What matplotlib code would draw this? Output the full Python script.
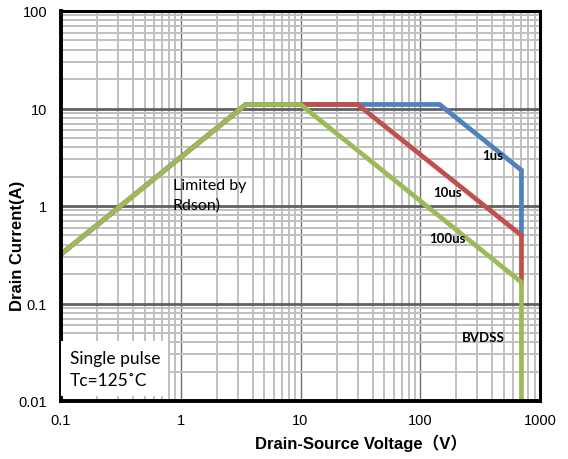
import matplotlib
matplotlib.use("Agg")
import matplotlib.pyplot as plt
from matplotlib.ticker import LogLocator, NullFormatter, FixedLocator

# SOA curves (Drain-Source voltage V, drain current A)
v_1us = [0.1, 3.5, 145, 700, 700]
i_1us = [0.32, 11, 11, 2.33, 0.5]
v_10us = [0.1, 3.5, 30, 700, 700]
i_10us = [0.32, 11, 11, 0.5, 0.165]
v_100us = [0.1, 3.5, 10, 700, 700]
i_100us = [0.32, 11, 11, 0.165, 0.005]

x_ticks = [0.1, 1, 10, 100, 1000]
x_tick_labels = ["0.1", "1", "10", "100", "1000"]
y_ticks = [0.01, 0.1, 1, 10, 100]
y_tick_labels = ["0.01", "0.1", "1", "10", "100"]

sans = ["Liberation Sans", "Noto Sans CJK SC"]
calib = ["Lato", "DejaVu Sans"]

fig = plt.figure(figsize=(5.68, 4.60), dpi=100)
ax = fig.add_axes([61 / 568, 1 - 402 / 460, (540 - 61) / 568, (402 - 12) / 460])
ax.set_xscale("log")
ax.set_yscale("log")
ax.set_xlim(0.1, 1000)
ax.set_ylim(0.01, 100)

# grid
ax.xaxis.set_minor_locator(LogLocator(base=10, subs=range(2, 10)))
ax.yaxis.set_minor_locator(LogLocator(base=10, subs=range(2, 10)))
ax.xaxis.set_minor_formatter(NullFormatter())
ax.yaxis.set_minor_formatter(NullFormatter())
ax.grid(which="minor", color="#c0c0c0", linewidth=1.4)
ax.grid(which="major", axis="x", color="#707070", linewidth=1.0)
ax.grid(which="major", axis="y", color="#606060", linewidth=2.0)
ax.set_axisbelow(True)

ax.plot(v_1us, i_1us, color="#4f81bd", linewidth=3.4, solid_joinstyle="miter")
ax.plot(v_10us, i_10us, color="#c0504d", linewidth=3.4, solid_joinstyle="miter")
ax.plot(v_100us, i_100us, color="#9bbb59", linewidth=3.4, solid_joinstyle="miter")

ax.xaxis.set_major_locator(FixedLocator(x_ticks))
ax.yaxis.set_major_locator(FixedLocator(y_ticks))
ax.set_xticklabels(x_tick_labels, family=sans, fontsize=10.5)
ax.set_yticklabels(y_tick_labels, family=sans, fontsize=10.5)
ax.tick_params(which="both", length=0)
ax.tick_params(axis="x", pad=9)
ax.tick_params(axis="y", pad=10)

for side in ["left", "bottom"]:
    ax.spines[side].set_linewidth(2.8)
for side in ["top", "right"]:
    ax.spines[side].set_linewidth(2.2)

# annotations
ax.text(0.86, 1.3, "Limited by\nRdson)", family=calib, fontsize=11.5,
        linespacing=1.5, va="center", ha="left")
ax.text(400, 3.3, "1us", family=calib, fontsize=9.5, fontweight="bold",
        ha="center", va="center")
ax.text(168, 1.38, "10us", family=calib, fontsize=9.5, fontweight="bold",
        ha="center", va="center")
ax.text(168, 0.47, "100us", family=calib, fontsize=9.5, fontweight="bold",
        ha="center", va="center")
ax.text(335, 0.045, "BVDSS", family=calib, fontsize=9.5, fontweight="bold",
        ha="center", va="center")
ax.text(0.118, 0.0215, "Single pulse\nTc=125˚C", family=calib, fontsize=12.5,
        linespacing=1.45, va="center", ha="left",
        bbox=dict(facecolor="white", edgecolor="none", pad=6))

fig.text(361 / 568, 1 - 443 / 460, "Drain-Source Voltage（V）", family=sans,
         fontsize=12, fontweight="bold", ha="center", va="center")
fig.text(18 / 568, 1 - 246 / 460, "Drain Current(A)", family=sans,
         fontsize=12, fontweight="bold", ha="center", va="center", rotation=90)

fig.savefig("out.png", dpi=100)
